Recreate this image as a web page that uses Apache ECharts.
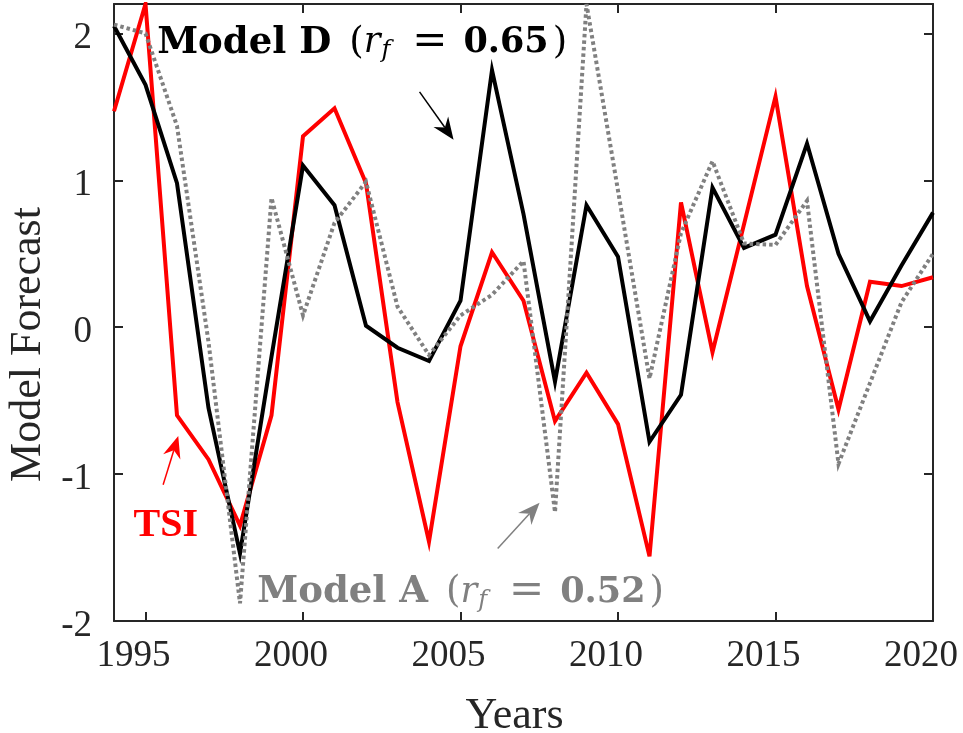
<!DOCTYPE html>
<html><head><meta charset="utf-8">
<script src="https://cdn.jsdelivr.net/npm/echarts@6/dist/echarts.min.js"></script>
<style>html,body{margin:0;padding:0;background:#fff}#c{width:963px;height:733px}</style>
</head><body><div id="c"></div>
<script>
// ---- data ----
const years = [1994,1995,1996,1997,1998,1999,2000,2001,2002,2003,2004,2005,2006,2007,2008,2009,2010,2011,2012,2013,2014,2015,2016,2017,2018,2019,2020];
const tsi    = [1.47,2.2,-0.6,-0.9,-1.35,-0.6,1.3,1.49,0.98,-0.51,-1.46,-0.13,0.51,0.18,-0.64,-0.31,-0.66,-1.56,0.85,-0.17,0.70,1.57,0.28,-0.56,0.31,0.28,0.34];
const modelD = [2.05,1.65,0.98,-0.55,-1.54,-0.2,1.1,0.83,0.01,-0.14,-0.23,0.18,1.75,0.77,-0.37,0.83,0.48,-0.78,-0.46,0.95,0.54,0.63,1.25,0.5,0.04,0.42,0.78];
const modelA = [2.06,2.0,1.37,-0.1,-1.88,0.88,0.08,0.71,0.99,0.14,-0.19,0.08,0.22,0.45,-1.26,2.2,0.93,-0.35,0.64,1.13,0.57,0.56,0.86,-0.93,-0.38,0.17,0.5];
const xTickValues = [1995,2000,2005,2010,2015,2020];
const yTickValues = [-2,-1,0,1,2];
const xRange = [1994,2020];
const yRange = [-2,2.2];
// annotation anchors (data coordinates)
const labelDAt = [1995.37, 1.935];
const labelAAt = [1998.55, -1.806];
const labelTsiAt = [1994.62, -1.35];
const arrowD = [[2003.70, 1.602],[2004.78, 1.276]];
const arrowTsi = [[1995.56, -1.073],[1996.04, -0.74]];
const arrowA = [[2006.18, -1.507],[2007.51, -1.195]];

const SERIF = 'Liberation Serif';
const AX = '#262626';
const GRAY = '#808080';
const pairs = arr => years.map((y,i)=>[y,arr[i]]);

const chart = echarts.init(document.getElementById('c'), null, {renderer:'canvas'});

const mirrorAxis = (pos) => ({
  type:'value', min: pos==='top'? xRange[0]: yRange[0], max: pos==='top'? xRange[1]: yRange[1],
  position: pos,
  axisLine:{show:true, onZero:false, lineStyle:{color:AX,width:2}},
  axisTick:{show:true, inside:true, length:9, lineStyle:{color:AX,width:2}, customValues: (pos==='top'? xTickValues: yTickValues)},
  axisLabel:{show:false},
  splitLine:{show:false}
});

chart.setOption({
  animation:false,
  backgroundColor:'#fff',
  grid:{left:114, right:30, top:4, bottom:112, containLabel:false, outerBoundsMode:'none'},
  xAxis:[{
    type:'value', min:xRange[0], max:xRange[1], position:'bottom',
    name:'Years', nameLocation:'middle', nameGap:73,
    nameTextStyle:{fontFamily:SERIF, fontSize:44, color:AX, padding:[0,18,0,0]},
    axisLine:{show:true, onZero:false, lineStyle:{color:AX,width:2}},
    axisTick:{show:true, inside:true, length:9, lineStyle:{color:AX,width:2}, customValues:xTickValues},
    axisLabel:{show:true, margin:17, fontFamily:SERIF, fontSize:37, color:AX, customValues:xTickValues, padding:[0,24,0,0],
      formatter: v => String(v)},
    splitLine:{show:false}
  }, mirrorAxis('top')],
  yAxis:[{
    type:'value', min:yRange[0], max:yRange[1], position:'left',
    name:'Model Forecast', nameLocation:'middle', nameGap:62,
    nameTextStyle:{fontFamily:SERIF, fontSize:44, color:AX, padding:[0,64,0,0]},
    axisLine:{show:true, onZero:false, lineStyle:{color:AX,width:2}},
    axisTick:{show:true, inside:true, length:9, lineStyle:{color:AX,width:2}, customValues:yTickValues},
    axisLabel:{show:true, margin:22, fontFamily:SERIF, fontSize:37, color:AX, customValues:yTickValues,
      formatter: v => '{t|' + String(v) + '}',
      rich:{t:{fontFamily:SERIF, fontSize:37, color:AX, padding:[10,0,0,0]}}},
    splitLine:{show:false}
  }, mirrorAxis('right')],
  series:[
    {type:'line', name:'TSI', data:pairs(tsi), showSymbol:false, symbol:'none', clip:true, z:2,
     lineStyle:{color:'#ff0000', width:4, join:'miter', miterLimit:6}},
    {type:'line', name:'Model D', data:pairs(modelD), showSymbol:false, symbol:'none', clip:true, z:3,
     lineStyle:{color:'#000000', width:4, join:'miter', miterLimit:6}},
    {type:'line', name:'Model A', data:pairs(modelA), showSymbol:false, symbol:'none', clip:true, z:4,
     lineStyle:{color:GRAY, width:4, type:[3.5,3], cap:'butt', join:'miter', miterLimit:6}}
  ]
});

const px = p => chart.convertToPixel({xAxisIndex:0, yAxisIndex:0}, p);

function arrow(seg, color, lw){
  const a = px(seg[0]), b = px(seg[1]);
  const dx=b[0]-a[0], dy=b[1]-a[1], L=Math.hypot(dx,dy), ux=dx/L, uy=dy/L, nx=-uy, ny=ux;
  const H=22, W=9, N=15;
  const back=[b[0]-ux*H, b[1]-uy*H];
  const notch=[b[0]-ux*N, b[1]-uy*N];
  return [
    {type:'line', silent:true, z:10, shape:{x1:a[0],y1:a[1],x2:notch[0],y2:notch[1]}, style:{stroke:color, lineWidth:lw}},
    {type:'polygon', silent:true, z:10, shape:{points:[[b[0],b[1]],[back[0]+nx*W,back[1]+ny*W],notch,[back[0]-nx*W,back[1]-ny*W]]}, style:{fill:color}}
  ];
}

function modelLabel(name, val, color, at){
  const p = px(at);
  return {type:'text', silent:true, z:10, x:p[0], y:p[1], style:{
    text:'{b|'+name+'}{p|(}{i|r}{s|f}{e|=}{n|'+val+'}{q|)}',
    fill:color, align:'left', verticalAlign:'middle',
    rich:{
      b:{fontFamily:'DejaVu Serif', fontWeight:'bold', fontSize:37, fill:color},
      p:{fontFamily:'DejaVu Serif', fontSize:37, fill:color, padding:[0,0,0,18]},
      i:{fontFamily:'DejaVu Serif', fontStyle:'italic', fontSize:35, fill:color},
      s:{fontFamily:'DejaVu Serif', fontStyle:'italic', fontSize:24, fill:color, padding:[16,0,0,1]},
      e:{fontFamily:'DejaVu Serif', fontSize:42, fill:color, padding:[0,16,0,22]},
      n:{fontFamily:'DejaVu Serif', fontWeight:'bold', fontSize:35, fill:color},
      q:{fontFamily:'DejaVu Serif', fontSize:37, fill:color, padding:[0,0,0,4]}
    }
  }};
}

function draw(){
  const tsiP = px(labelTsiAt);
  const els = [
    modelLabel('Model D', '0.65', '#000000', labelDAt),
    modelLabel('Model A', '0.52', GRAY, labelAAt),
    {type:'text', silent:true, z:10, x:tsiP[0], y:tsiP[1], style:{text:'TSI', fill:'#ff0000', font:'bold 40px "Liberation Serif"', align:'left', verticalAlign:'middle'}},
    ...arrow(arrowD, '#000000', 1.5),
    ...arrow(arrowTsi, '#ff0000', 1.5),
    ...arrow(arrowA, GRAY, 1.5)
  ];
  chart.setOption({graphic:{elements:els}});
}
draw();
</script>
</body></html>
